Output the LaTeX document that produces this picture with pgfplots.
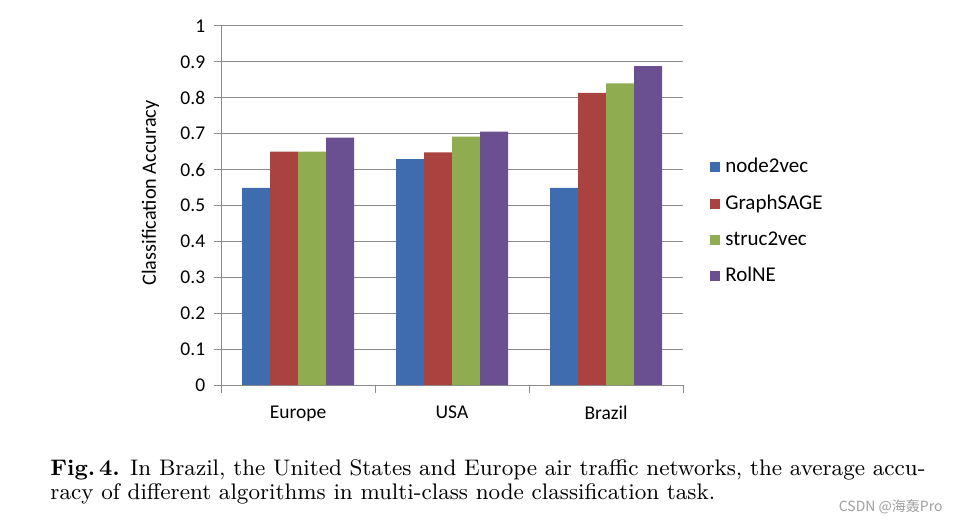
\documentclass[border=0pt]{standalone}
\usepackage{fontspec}
\usepackage{pgfplots}
\pgfplotsset{compat=1.18}
\newfontfamily\calibri{Carlito}
\newfontfamily\cjk{Noto Sans CJK SC}
\definecolor{cblue}{RGB}{62,108,175}
\definecolor{cred}{RGB}{170,67,64}
\definecolor{cgreen}{RGB}{143,172,80}
\definecolor{cpurple}{RGB}{106,80,145}
\definecolor{gridgray}{RGB}{140,140,140}
\begin{document}
\begin{tikzpicture}[x=0.4pt,y=0.4pt]
\path[use as bounding box] (0,0) rectangle (958,522);
\begin{axis}[
  at={(88.4pt,54.8pt)}, anchor=south west,
  scale only axis, width=184.8pt, height=143.6pt,
  xmin=-0.5, xmax=2.5, ymin=0, ymax=1,
  ybar=0pt, bar width=11.2pt,
  axis x line*=bottom, axis y line*=left,
  axis line style={draw=gridgray,-},
  ytick={0,0.1,0.2,0.3,0.4,0.5,0.6,0.7,0.8,0.9,1},
  yticklabels={0,0.1,0.2,0.3,0.4,0.5,0.6,0.7,0.8,0.9,1},
  ymajorgrids, major grid style={draw=gridgray, line width=0.4pt},
  xtick={0,1,2}, xticklabels={Europe,USA,Brazil},
  minor xtick={-0.5,0.5,1.5,2.5},
  tick align=outside, major tick length=2.8pt, minor tick length=3.2pt,
  tick style={draw=gridgray, line width=0.4pt},
  major x tick style={draw=none},
  /pgf/number format/assume math mode=true,
  ticklabel style={font=\calibri\fontsize{7.8}{9}\selectfont},
  x tick label style={yshift=-2.2pt},
  ylabel={Classification Accuracy},
  ylabel style={at={(axis description cs:-0.1147,0.535)}, anchor=south, font=\calibri\fontsize{8.1}{9}\selectfont},
  legend style={at={(rel axis cs:1.058,0.647)}, anchor=north west, draw=none, fill=none,
    font=\calibri\fontsize{8.4}{10}\selectfont, row sep=3.3pt, inner sep=0pt},
  legend cell align=left,
  legend image code/.code={\fill[#1] (0pt,-2pt) rectangle (4pt,2pt);},
]
\addplot[fill=cblue, draw=none] coordinates {(0,0.549) (1,0.629) (2,0.549)};
\addplot[fill=cred, draw=none] coordinates {(0,0.650) (1,0.648) (2,0.814)};
\addplot[fill=cgreen, draw=none] coordinates {(0,0.650) (1,0.692) (2,0.840)};
\addplot[fill=cpurple, draw=none] coordinates {(0,0.689) (1,0.706) (2,0.888)};
\legend{node2vec,GraphSAGE,struc2vec,RolNE}
\end{axis}
\node[anchor=north west, inner sep=0pt, text width=350pt, align=justify,
  font=\fontsize{9}{9.8}\selectfont] at (50,63)
  {\textbf{Fig.\,4.} In Brazil, the United States and Europe air traffic networks, the average accu-\linebreak racy of different algorithms in multi-class node classification task.};
\node[anchor=base east, inner sep=0pt, text=gray!75, font=\cjk\fontsize{5.6}{6}\selectfont] at (943,11) {CSDN @海轰Pro};
\end{tikzpicture}
\end{document}
